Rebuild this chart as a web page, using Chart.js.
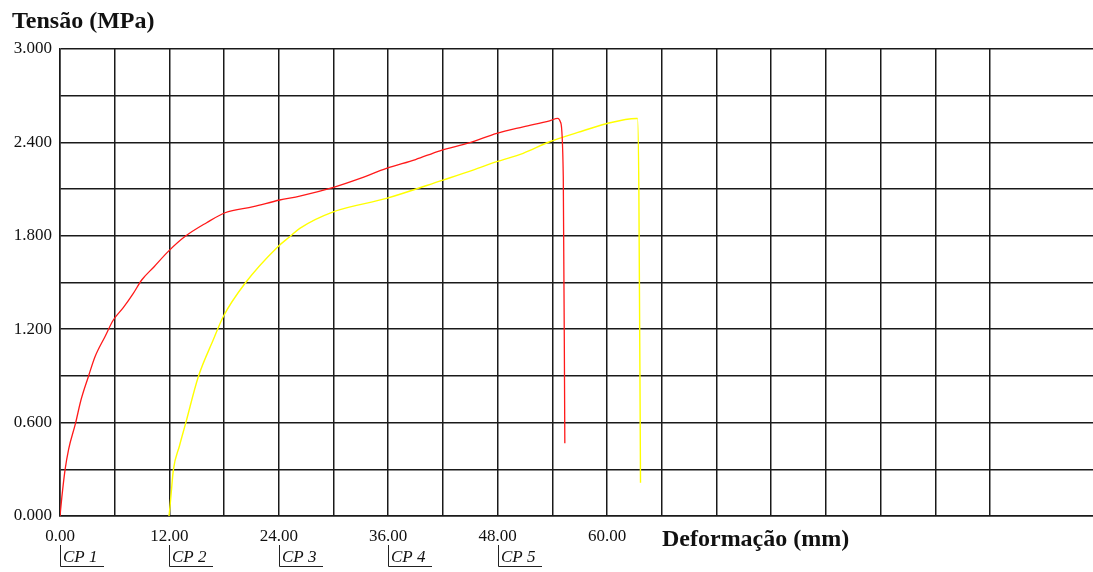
<!DOCTYPE html>
<html>
<head>
<meta charset="utf-8">
<script src="https://cdn.jsdelivr.net/npm/chart.js@4"></script>
<style>
  body { margin: 0; background: #fff; }
  canvas { display: block; }
</style>
</head>
<body>
<canvas id="myChart" width="1093" height="572"></canvas>
<script>
// CP 1 (red) - deformação (mm) / tensão (MPa)
var cp1X = [0, 0.2, 0.55, 0.95, 1.7, 2.3, 3.11, 3.84, 4.93, 5.85, 6.94, 8.04, 8.96, 10.3, 11.88, 13.7, 16.08, 18.1, 21.2, 24.1, 26.3, 30.0, 33.0, 35.8, 39.0, 41.67, 44.96, 47.9, 50.8, 53.7, 54.6, 54.9, 55.2, 55.37];
var cp1Y = [0, 0.12, 0.295, 0.43, 0.595, 0.745, 0.895, 1.023, 1.152, 1.259, 1.338, 1.43, 1.516, 1.6, 1.7, 1.795, 1.884, 1.948, 1.987, 2.03, 2.055, 2.111, 2.17, 2.233, 2.29, 2.346, 2.398, 2.458, 2.5, 2.539, 2.554, 2.53, 2.18, 0.467];

// CP 2 (yellow)
var cp2X = [11.95, 11.99, 12.2, 12.43, 13.1, 13.78, 15.17, 16.8, 17.9, 20.3, 23.9, 25.2, 26.3, 29.97, 35.8, 42.0, 45.3, 47.9, 50.8, 53.7, 56.8, 59.9, 63.2, 63.34, 63.49, 63.67];
var cp2Y = [0, 0.017, 0.15, 0.295, 0.45, 0.595, 0.895, 1.13, 1.28, 1.495, 1.73, 1.794, 1.848, 1.954, 2.04, 2.158, 2.222, 2.276, 2.33, 2.404, 2.464, 2.52, 2.554, 2.554, 2.094, 0.214];

// specimen labels under the x axis
var cpLabels = ["CP 1", "CP 2", "CP 3", "CP 4", "CP 5"];
var cpStarts = [0, 12, 24, 36, 48];

function toPoints(xs, ys) {
  return xs.map(function (x, i) { return { x: x, y: ys[i] }; });
}

var gridColor = "#1a1a1a";

// titles + CP labels
var extras = {
  id: "extras",
  afterDraw: function (chart) {
    var c = chart.ctx;
    var xs = chart.scales.x;
    c.save();
    c.fillStyle = "#111";
    c.textBaseline = "alphabetic";
    c.textAlign = "left";
    c.font = "bold 24px 'Liberation Serif'";
    c.fillText("Tensão (MPa)", 12, 28);
    c.fillText("Deformação (mm)", 662, 546);

    c.font = "italic 17px 'Liberation Serif'";
    c.strokeStyle = "#222";
    c.lineWidth = 1;
    cpLabels.forEach(function (lab, i) {
      var px = Math.round(xs.getPixelForValue(cpStarts[i]));
      c.fillText(lab, px + 3, 562);
      c.beginPath();
      c.moveTo(px + 0.5, 545);
      c.lineTo(px + 0.5, 566.5);
      c.lineTo(px + 44, 566.5);
      c.stroke();
    });
    c.restore();
  }
};

var ctx = document.getElementById("myChart").getContext("2d");
var myChart = new Chart(ctx, {
  type: "line",
  data: {
    datasets: [
      {
        label: "CP 1",
        data: toPoints(cp1X, cp1Y),
        borderColor: "rgb(255, 25, 25)",
        borderWidth: 1.3,
        pointRadius: 0,
        cubicInterpolationMode: "monotone",
        fill: false
      },
      {
        label: "CP 2",
        data: toPoints(cp2X, cp2Y),
        borderColor: "rgb(255, 255, 0)",
        borderWidth: 1.4,
        pointRadius: 0,
        cubicInterpolationMode: "monotone",
        fill: false
      }
    ]
  },
  options: {
    responsive: false,
    animation: false,
    layout: { padding: { top: 49, left: 0, right: 0, bottom: 0 } },
    plugins: {
      legend: { display: false },
      tooltip: { enabled: false }
    },
    scales: {
      x: {
        type: "linear",
        min: 0,
        max: 113.3,
        afterBuildTicks: function (scale) {
          scale.ticks = scale.ticks.filter(function (t) { return Math.abs(t.value % 6) < 1e-6; });
        },
        afterFit: function (scale) { scale.height = 56; },
        grid: { color: gridColor, lineWidth: 1.5, drawTicks: false },
        border: { color: gridColor, width: 1.5 },
        ticks: {
          stepSize: 6,
          autoSkip: false,
          maxRotation: 0,
          padding: 10,
          color: "#111",
          font: { family: "'Liberation Serif'", size: 17 },
          callback: function (v) {
            return (v % 12 === 0 && v <= 60) ? v.toFixed(2) : "";
          }
        }
      },
      y: {
        min: 0,
        max: 3,
        afterFit: function (scale) { scale.width = 60; },
        grid: { color: gridColor, lineWidth: 1.5, drawTicks: false },
        border: { color: gridColor, width: 1.5 },
        ticks: {
          stepSize: 0.3,
          autoSkip: false,
          padding: 8,
          color: "#111",
          font: { family: "'Liberation Serif'", size: 17 },
          callback: function (v) {
            return Math.round(v * 10) % 6 === 0 ? v.toFixed(3) : "";
          }
        }
      }
    }
  },
  plugins: [extras]
});
</script>
</body>
</html>
